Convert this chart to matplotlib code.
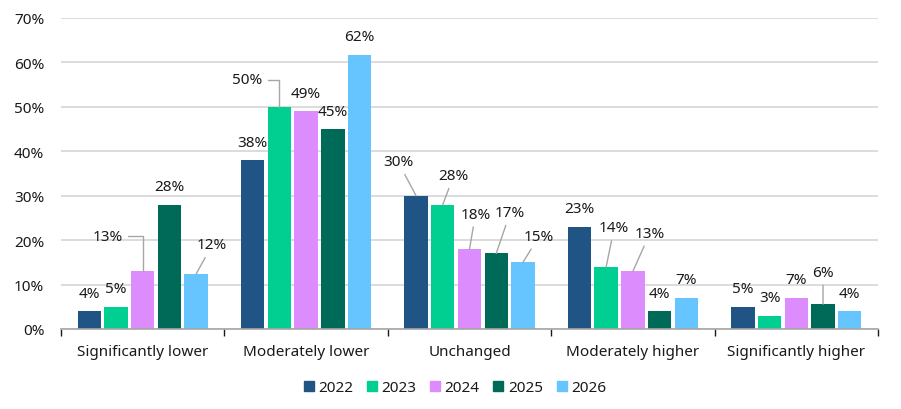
import numpy as np
import matplotlib.pyplot as plt
from matplotlib.patches import Patch

plt.rcParams['font.family'] = ['Noto Sans', 'DejaVu Sans']

categories = ['Significantly lower', 'Moderately lower', 'Unchanged',
              'Moderately higher', 'Significantly higher']
years = ['2022', '2023', '2024', '2025', '2026']
values = {
    '2022': [4, 38, 30, 23, 5],
    '2023': [5, 50, 28, 14, 3],
    '2024': [13, 49, 18, 13, 7],
    '2025': [28, 45, 17, 4, 5.6],
    '2026': [12.4, 61.7, 15, 7, 4],
}
labels = {
    '2022': [4, 38, 30, 23, 5],
    '2023': [5, 50, 28, 14, 3],
    '2024': [13, 49, 18, 13, 7],
    '2025': [28, 45, 17, 4, 6],
    '2026': [12, 62, 15, 7, 4],
}
colors = ['#1f5484', '#00cf91', '#dc8cfc', '#006a58', '#66c5ff']

# label offsets in pixels (dx, dy, leader style) for labels moved off the bar top
offsets = {
    (0, 2): (-35, 35, 'elbow'), (0, 4): (16, 29, 'line'),
    (1, 1): (-32, 27, 'elbow'),
    (2, 0): (-18, 34, 'line'), (2, 1): (11, 29, 'line'), (2, 2): (6, 35, 'line'),
    (2, 3): (14, 41, 'line'), (2, 4): (16, 26, 'line'),
    (3, 1): (8, 39, 'line'), (3, 2): (17, 38, 'line'),
    (4, 3): (0, 32, 'line'),
}

fig = plt.figure(figsize=(9.01, 4.10), dpi=100)
ax = fig.add_axes([61 / 901, 80 / 410, 817 / 901, 311 / 410])

x = np.arange(len(categories))
step = 0.1636
width = 0.143
for j, yr in enumerate(years):
    xs = x + (j - 2) * step
    vals = np.array(values[yr]) / 100
    ax.bar(xs, vals, width=width, color=colors[j], zorder=3)
    for i, (xx, v) in enumerate(zip(xs, vals)):
        txt = f'{labels[yr][i]}%'
        if (i, j) in offsets:
            dx, dy, kind = offsets[(i, j)]
            if kind == 'elbow':
                cs = 'angle,angleA=0,angleB=90,rad=0'
            else:
                cs = 'arc3'
            ax.annotate(txt, xy=(xx, v), xytext=(dx, dy), textcoords='offset pixels',
                        ha='center', va='center', fontsize=11, color='#1a1a1a',
                        arrowprops=dict(arrowstyle='-', color='#a6a6a6', lw=1,
                                        shrinkA=2, shrinkB=0, connectionstyle=cs),
                        zorder=4)
        else:
            ax.annotate(txt, xy=(xx, v), xytext=(0, 18), textcoords='offset pixels',
                        ha='center', va='center', fontsize=11, color='#1a1a1a', zorder=4)

ax.set_xlim(-0.5, 4.5)
ax.set_ylim(0, 0.70)
ax.set_yticks(np.arange(0, 0.71, 0.1))
ax.set_yticklabels([f'{int(round(t * 100))}%' for t in np.arange(0, 0.71, 0.1)])
ax.yaxis.grid(True, color='#d9d9d9', lw=1.3, zorder=0)
ax.set_xticks(x)
ax.set_xticklabels(categories)
ax.set_xticks(np.arange(-0.5, 5, 1), minor=True)
ax.tick_params(axis='x', which='major', length=0, pad=11, labelsize=11, labelcolor='#1a1a1a')
ax.tick_params(axis='x', which='minor', length=5, width=1, color='#1a1a1a', direction='out')
ax.tick_params(axis='y', length=0, pad=12, labelsize=11, labelcolor='#1a1a1a')
for s in ['top', 'right', 'left']:
    ax.spines[s].set_visible(False)
ax.spines['bottom'].set_color('#a6a6a6')
ax.spines['bottom'].set_linewidth(1.2)
ax.spines['bottom'].set_zorder(5)

handles = [Patch(color=c, label=y) for c, y in zip(colors, years)]
fig.legend(handles=handles, loc='center', bbox_to_anchor=(455 / 901, 1 - 389 / 410),
           ncol=5, frameon=False, fontsize=11, handlelength=0.65, handleheight=0.65,
           handletextpad=0.3, columnspacing=0.9, labelcolor='#1a1a1a')

fig.savefig('out.png', dpi=100)
